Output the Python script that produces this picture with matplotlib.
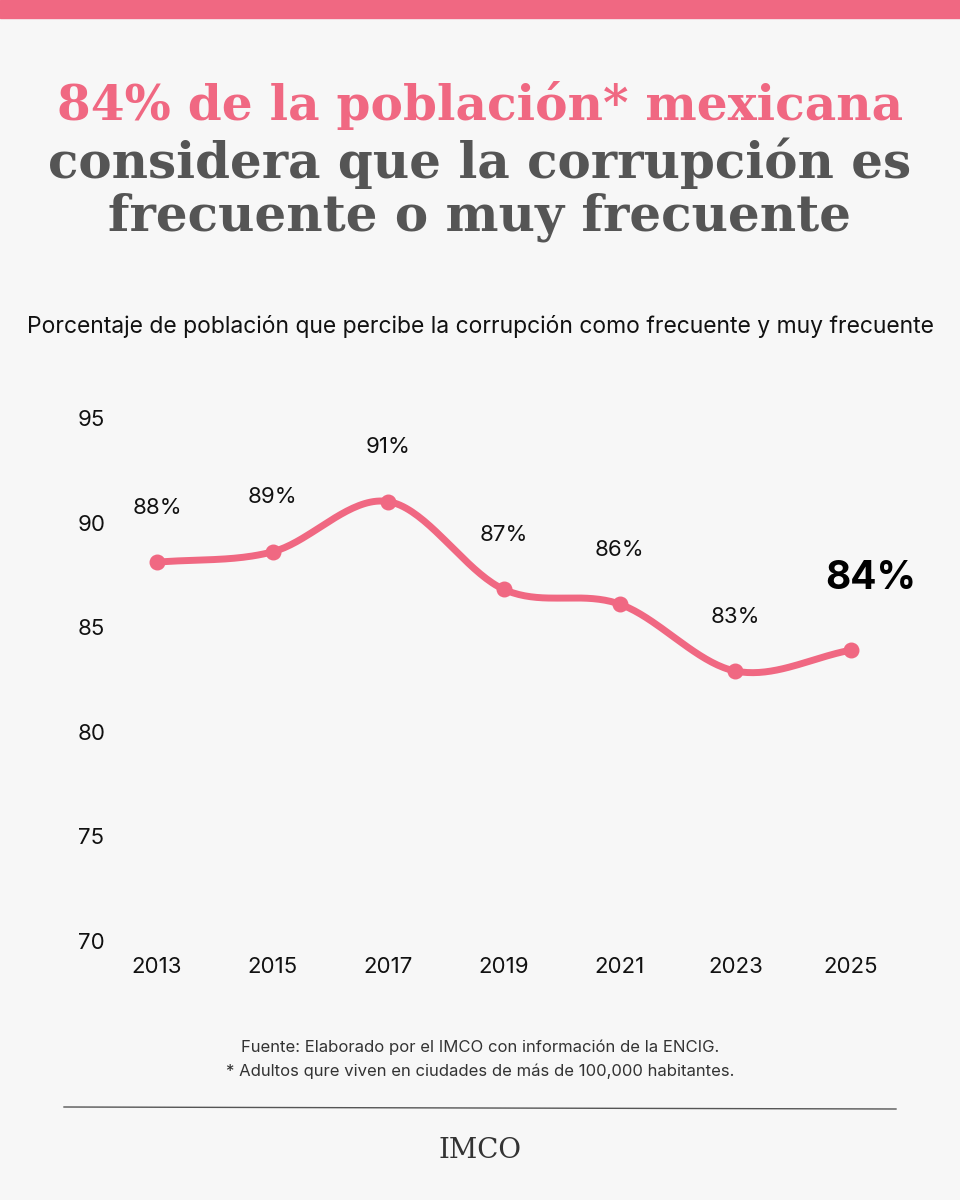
import matplotlib.pyplot as plt
import matplotlib.transforms as mtransforms
import numpy as np

years = [2013, 2015, 2017, 2019, 2021, 2023, 2025]
values = [88.2, 88.7, 91.1, 86.9, 86.2, 83.0, 84.0]
labels = ['88%', '89%', '91%', '87%', '86%', '83%', '84%']
yticks = [70, 75, 80, 85, 90, 95]

PINK = '#F06882'
GRAY = '#555555'
BG = '#F7F7F7'

W, H = 960, 1200
fig = plt.figure(figsize=(9.6, 12), dpi=100, facecolor=BG)

def fx(px):
    return px / W

def fy(py):
    return 1 - py / H

# top bar
fig.patches.append(plt.Rectangle((0, fy(18)), 1, 18 / H, transform=fig.transFigure,
                                 color=PINK, zorder=0))

serif = 'DejaVu Serif'
fig.text(0.5, fy(105), '84% de la población* mexicana', ha='center', va='center',
         fontsize=35, fontweight='bold', family=serif, color=PINK)
fig.text(0.5, fy(163), 'considera que la corrupción es', ha='center', va='center',
         fontsize=36, fontweight='bold', family=serif, color=GRAY)
fig.text(0.5, fy(217), 'frecuente o muy frecuente', ha='center', va='center',
         fontsize=36, fontweight='bold', family=serif, color=GRAY)

fig.text(0.5, fy(327), 'Porcentaje de población que percibe la corrupción como frecuente y muy frecuente',
         ha='center', va='center', fontsize=16.5, family='Inter', color='#111111')

# axes: 2013 -> 157px, 2025 -> 851px, 70 -> 940px, 95 -> 420px
ax_l, ax_r, ax_t, ax_b = 100, 910, 420, 943
ax = fig.add_axes([fx(ax_l), fy(ax_b), (ax_r - ax_l) / W, (ax_b - ax_t) / H])
ax.set_facecolor('none')
per = (851 - 157) / 12
ax.set_xlim(2013 - (157 - ax_l) / per, 2025 + (ax_r - 851) / per)
ax.set_ylim(70, 95)
for s in ax.spines.values():
    s.set_visible(False)
ax.set_xticks([])
ax.set_yticks([])

# smooth line (Catmull-Rom through the data points)
x = np.array(years, float)
y = np.array(values, float)
px = np.concatenate([[2 * x[0] - x[1]], x, [2 * x[-1] - x[-2]]])
py = np.concatenate([[2 * y[0] - y[1]], y, [2 * y[-1] - y[-2]]])
xs, ys = [], []
t = np.linspace(0, 1, 40)
for i in range(1, len(px) - 2):
    p0, p1, p2, p3 = [np.array([px[j], py[j]]) for j in range(i - 1, i + 3)]
    seg = 0.5 * ((2 * p1)[:, None] + (-p0 + p2)[:, None] * t
                 + (2 * p0 - 5 * p1 + 4 * p2 - p3)[:, None] * t ** 2
                 + (-p0 + 3 * p1 - 3 * p2 + p3)[:, None] * t ** 3)
    xs.extend(seg[0]); ys.extend(seg[1])
ax.plot(xs, ys, color=PINK, lw=5, solid_capstyle='round', zorder=2)
ax.scatter(years, values, s=110, color=PINK, zorder=3)

for i, (xv, yv, lab) in enumerate(zip(years, values, labels)):
    if i == len(years) - 1:
        ax.text(xv + 0.35, yv + 3.4, lab, ha='center', va='center', fontsize=28,
                fontweight='bold', family='Inter', color='black')
    else:
        ax.text(xv, yv + 2.6, lab, ha='center', va='center', fontsize=16,
                family='Inter', color='#111111')

trans_y = mtransforms.blended_transform_factory(fig.transFigure, ax.transData)
for v in yticks:
    fig.text(fx(78), 0, str(v), transform=trans_y, ha='left', va='center', fontsize=16,
             family='Inter', color='#111111').set_y(v)
for xv in years:
    ax.text(xv, 70, str(xv), ha='center', va='center', fontsize=16, family='Inter',
            color='#111111', transform=mtransforms.blended_transform_factory(
                ax.transData, fig.transFigure)).set_y(fy(967))

fig.text(0.5, fy(1047), 'Fuente: Elaborado por el IMCO con información de la ENCIG.',
         ha='center', va='center', fontsize=12, family='Inter', color='#333333')
fig.text(0.5, fy(1071), '* Adultos qure viven en ciudades de más de 100,000 habitantes.',
         ha='center', va='center', fontsize=12, family='Inter', color='#333333')
fig.lines.append(plt.Line2D([fx(64), fx(896)], [fy(1107), fy(1109)], transform=fig.transFigure,
                            color='#555555', lw=1))
fig.text(0.5, fy(1150), 'IMCO', ha='center', va='center', fontsize=20, family='DejaVu Serif',
         color='#333333')

fig.savefig('out.png', dpi=100, facecolor=BG)
